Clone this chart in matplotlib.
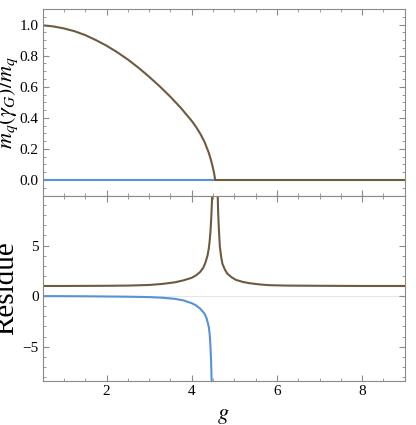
import numpy as np
import matplotlib
matplotlib.use("Agg")
import matplotlib.pyplot as plt
from matplotlib.ticker import MultipleLocator

plt.rcParams["font.family"] = ["Liberation Serif", "DejaVu Serif"]
plt.rcParams["mathtext.fontset"] = "stix"

BROWN = "#6e5a3f"
BLUE = "#5592d8"
FRAME = "#8a8a8a"

# top panel: normalised mass
g_mass = [0.5, 0.75, 1.0, 1.25, 1.5, 1.75, 2.0, 2.25, 2.5, 2.75, 3.0, 3.25, 3.5,
          3.75, 4.0, 4.1, 4.2, 4.3, 4.4, 4.45, 4.5, 4.53, 4.55, 9.0]
m_brown = [0.995, 0.988, 0.975, 0.957, 0.932, 0.90, 0.864, 0.822, 0.775, 0.722,
           0.664, 0.602, 0.535, 0.462, 0.38, 0.342, 0.298, 0.245, 0.175, 0.13,
           0.075, 0.035, 0.0, 0.0]
g_trivial = [0.5, 4.52]
m_blue = [0.0, 0.0]

# bottom panel: residues
g_res_left = [0.5, 1.0, 1.5, 2.0, 2.5, 3.0, 3.3, 3.6, 3.8, 4.0, 4.1, 4.2, 4.27,
              4.32, 4.37, 4.4, 4.42, 4.44, 4.46, 4.48, 4.49]
r_left = [1.0, 1.0, 1.01, 1.02, 1.04, 1.1, 1.2, 1.36, 1.55, 1.81, 2.05, 2.4, 2.8,
          3.3, 4.0, 4.7, 5.4, 6.4, 7.9, 9.9, 12.0]
g_res_right = [4.60, 4.61, 4.62, 4.635, 4.66, 4.69, 4.72, 4.78, 4.84, 4.94, 5.04,
               5.2, 5.35, 5.6, 5.82, 6.2, 7.0, 8.0, 9.0]
r_right = [12.0, 9.9, 8.3, 6.8, 4.9, 3.9, 3.2, 2.6, 2.2, 1.85, 1.6, 1.4, 1.28,
           1.15, 1.08, 1.04, 1.02, 1.0, 1.0]
g_res_blue = [0.5, 1.5, 2.5, 3.0, 3.3, 3.6, 3.8, 4.0, 4.1, 4.2, 4.3, 4.35, 4.4,
              4.42, 4.44, 4.455, 4.47, 4.48]
r_blue = [0.0, -0.02, -0.06, -0.1, -0.16, -0.27, -0.42, -0.7, -0.92, -1.25,
          -1.74, -2.2, -3.05, -3.7, -5.0, -6.5, -8.8, -12.0]


def style(ax):
    for s in ax.spines.values():
        s.set_color(FRAME)
        s.set_linewidth(0.8)
    ax.tick_params(which="both", direction="in", top=True, right=True,
                   color=FRAME, labelsize=11, pad=3)
    ax.tick_params(which="major", length=4, width=0.8)
    ax.tick_params(which="minor", length=2, width=0.6)
    ax.xaxis.set_major_locator(MultipleLocator(2))
    ax.xaxis.set_minor_locator(MultipleLocator(0.5))
    ax.set_xlim(0.5, 9.0)


fig = plt.figure(figsize=(4.16, 4.25), dpi=100)
ax1 = fig.add_axes([0.1026, 0.5388, 0.8702, 0.44])
ax2 = fig.add_axes([0.1026, 0.1035, 0.8702, 0.4353])

ax1.plot(g_trivial, m_blue, color=BLUE, lw=1.5)
ax1.plot(g_mass, m_brown, color=BROWN, lw=1.5)
ax1.set_ylim(-0.103, 1.10)
style(ax1)
ax1.yaxis.set_major_locator(MultipleLocator(0.2))
ax1.yaxis.set_minor_locator(MultipleLocator(0.05))
ax1.yaxis.set_major_formatter(plt.FuncFormatter(lambda v, p: f"{v:.1f}"))
ax1.tick_params(labelbottom=False)
ax1.set_ylabel(r"$m_q(\gamma_G)/m_q$", fontsize=16, labelpad=0)

ax2.axhline(0, color="#e6e6e6", lw=0.8, zorder=0)
ax2.plot(g_res_left, r_left, color=BROWN, lw=1.5)
ax2.plot(g_res_right, r_right, color=BROWN, lw=1.5)
ax2.plot(g_res_blue, r_blue, color=BLUE, lw=1.5)
ax2.set_ylim(-8.4, 9.9)
style(ax2)
ax2.yaxis.set_major_locator(MultipleLocator(5))
ax2.yaxis.set_minor_locator(MultipleLocator(1))
ax2.set_ylabel("Residue", fontsize=21, labelpad=2)
ax2.set_xlabel(r"$g$", fontsize=16, labelpad=6)

fig.savefig("out.png", dpi=100)
